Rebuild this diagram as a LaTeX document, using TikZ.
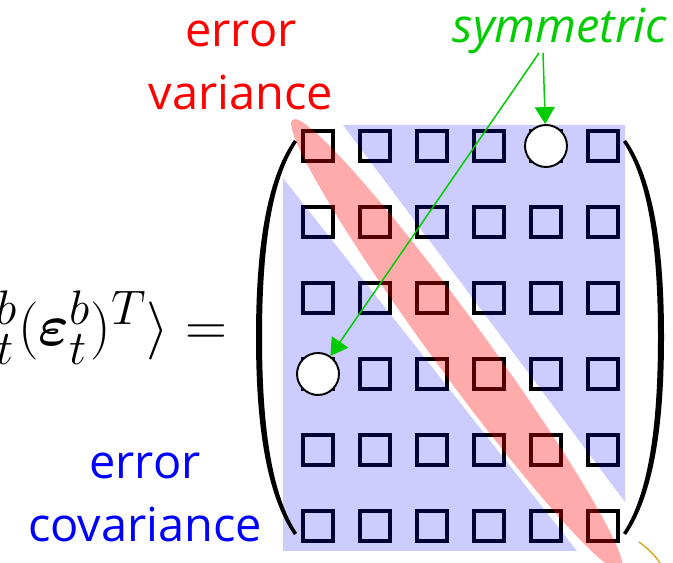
\documentclass[tikz,border=0pt]{standalone}
\usepackage{amsmath}
\usepackage{fontspec}
\setmainfont{Open Sans}
\usetikzlibrary{arrows.meta}
\definecolor{symgreen}{RGB}{0,204,0}
\definecolor{arcorange}{RGB}{218,165,32}

\begin{document}
\begin{tikzpicture}[x=0.02cm, y=-0.02cm,
  entry/.style={draw, line width=1.9pt, minimum size=0.6cm, inner sep=0pt},
  twin/.style={draw, circle, fill=white, line width=1.1pt, minimum size=0.84cm, inner sep=0pt},
  tag/.style={align=center, inner sep=0pt, font=\fontsize{26.7}{35.9}\selectfont},
  pointer/.style={symgreen, line width=0.85pt, -{Triangle[width=0.4cm, length=0.34cm]}}]

\useasboundingbox (0,0) rectangle (673,563);
\clip (0,0) rectangle (673,563);

% matrix entries
\foreach \i in {0,...,5} {
  \foreach \j in {0,...,5} {
    \node[entry] (e\i\j) at (318+57*\j, 146+76*\i) {};
  }
}

% covariance blocks and variance band
\fill[blue, fill opacity=0.2] (343,125) -- (625,125) -- (625,502) -- cycle;
\fill[blue, fill opacity=0.2] (283,178) -- (577,551) -- (283,551) -- cycle;
\fill[red, fill opacity=0.33, rotate around={-53.9:(457,345)}] (457,345) ellipse [x radius=279, y radius=27];

% big brackets
\fill (294,140) .. controls (266,180) and (256,250) .. (256,337)
  .. controls (256,424) and (266,494) .. (294,535)
  -- (297,533) .. controls (271,494) and (262,424) .. (262,337)
  .. controls (262,250) and (271,180) .. (297,142) -- cycle;
\fill (626,140) .. controls (654,180) and (664,250) .. (664,337)
  .. controls (664,424) and (654,494) .. (626,535)
  -- (623,533) .. controls (649,494) and (658,424) .. (658,337)
  .. controls (658,250) and (649,180) .. (623,142) -- cycle;

% symmetric pair
\node[twin] (t05) at (546,146) {};
\node[twin] (t30) at (318,374) {};

% labels
\node[tag, red, anchor=base] (var) at (241,110) {error\\variance};
\node[tag, blue, anchor=base] (cov) at (145,542) {error\\covariance};
\node[tag, symgreen, anchor=base, font=\fontsize{26.7}{35.9}\selectfont\itshape] (sym) at (560,43) {symmetric};
\node[inner sep=0pt, anchor=base east, scale=1.33, font=\fontsize{24.88}{30}\selectfont] (eq) at (228,346)
  {$\langle\boldsymbol{\varepsilon}^b_t(\boldsymbol{\varepsilon}^b_t)^T\rangle=$};

% arrows
\coordinate (s1) at (543,53);
\coordinate (s2) at (539,53);
\draw[pointer] (s1) -- (t05);
\draw[pointer] (s2) -- (t30);

% stray arc
\draw[arcorange, line width=0.8pt] (639,542) .. controls (650,550) and (658,558) .. (664,570);

\end{tikzpicture}
\end{document}
